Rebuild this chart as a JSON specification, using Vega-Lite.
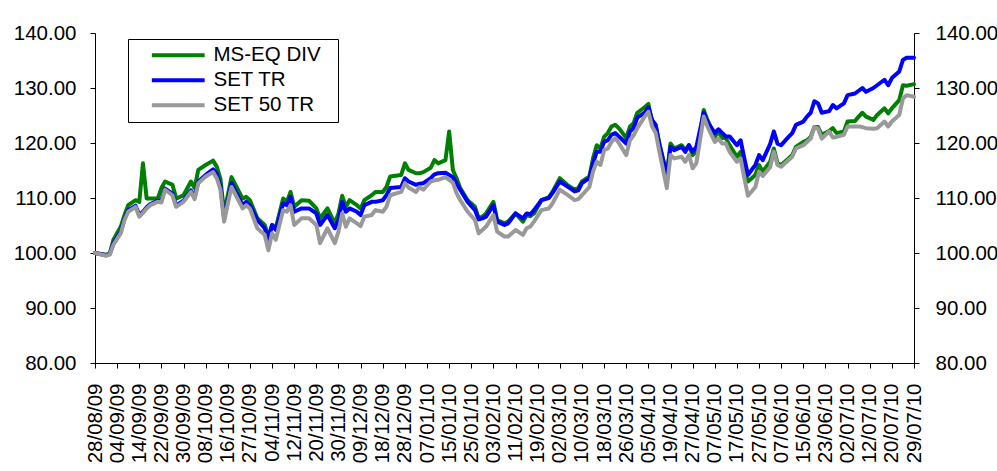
{
  "$schema": "https://vega.github.io/schema/vega-lite/v6.json",
  "width": 819,
  "height": 330,
  "autosize": {"type": "none"},
  "padding": {"left": 95, "top": 33, "right": 83, "bottom": 108},
  "background": "white",
  "config": {
    "view": {"stroke": null},
    "font": "Liberation Sans",
    "axis": {
      "labelFont": "Liberation Sans",
      "labelFontSize": 20.5,
      "labelColor": "#000000",
      "domainColor": "#000000",
      "tickColor": "#000000",
      "domainWidth": 1,
      "tickWidth": 1,
      "tickSize": 5,
      "grid": false,
      "title": null,
      "labelFlush": false,
      "labelOverlap": false
    }
  },
  "data": {
    "values": [
      {"d": 0, "MS-EQ DIV": 100.0, "SET TR": 100.0, "SET 50 TR": 100.0},
      {"d": 3, "MS-EQ DIV": 99.7, "SET TR": 99.6, "SET 50 TR": 99.5},
      {"d": 4, "MS-EQ DIV": 99.9, "SET TR": 99.8, "SET 50 TR": 99.7},
      {"d": 5, "MS-EQ DIV": 102.4, "SET TR": 101.8, "SET 50 TR": 101.5},
      {"d": 7, "MS-EQ DIV": 104.8, "SET TR": 103.9, "SET 50 TR": 103.6},
      {"d": 8, "MS-EQ DIV": 106.9, "SET TR": 106.3, "SET 50 TR": 106.0},
      {"d": 9, "MS-EQ DIV": 108.7, "SET TR": 107.8, "SET 50 TR": 107.5},
      {"d": 11, "MS-EQ DIV": 109.6, "SET TR": 108.6, "SET 50 TR": 108.4},
      {"d": 12, "MS-EQ DIV": 109.3, "SET TR": 106.9, "SET 50 TR": 106.6},
      {"d": 13, "MS-EQ DIV": 116.3, "SET TR": 107.5, "SET 50 TR": 107.3},
      {"d": 14, "MS-EQ DIV": 109.9, "SET TR": 108.3, "SET 50 TR": 108.1},
      {"d": 15, "MS-EQ DIV": 109.9, "SET TR": 108.9, "SET 50 TR": 108.7},
      {"d": 17, "MS-EQ DIV": 109.9, "SET TR": 109.5, "SET 50 TR": 109.3},
      {"d": 18, "MS-EQ DIV": 111.8, "SET TR": 109.5, "SET 50 TR": 109.2},
      {"d": 19, "MS-EQ DIV": 113.0, "SET TR": 111.7, "SET 50 TR": 111.5},
      {"d": 21, "MS-EQ DIV": 112.4, "SET TR": 110.8, "SET 50 TR": 110.5},
      {"d": 22, "MS-EQ DIV": 109.9, "SET TR": 108.6, "SET 50 TR": 108.4},
      {"d": 24, "MS-EQ DIV": 110.5, "SET TR": 109.5, "SET 50 TR": 109.3},
      {"d": 26, "MS-EQ DIV": 113.0, "SET TR": 111.4, "SET 50 TR": 111.1},
      {"d": 27, "MS-EQ DIV": 111.8, "SET TR": 110.1, "SET 50 TR": 109.8},
      {"d": 28, "MS-EQ DIV": 115.1, "SET TR": 113.0, "SET 50 TR": 112.7},
      {"d": 30, "MS-EQ DIV": 116.0, "SET TR": 114.2, "SET 50 TR": 113.9},
      {"d": 32, "MS-EQ DIV": 116.8, "SET TR": 115.2, "SET 50 TR": 114.7},
      {"d": 33, "MS-EQ DIV": 115.7, "SET TR": 114.4, "SET 50 TR": 113.6},
      {"d": 34, "MS-EQ DIV": 113.5, "SET TR": 112.2, "SET 50 TR": 111.5},
      {"d": 35, "MS-EQ DIV": 107.3, "SET TR": 106.2, "SET 50 TR": 105.7},
      {"d": 36, "MS-EQ DIV": 110.5, "SET TR": 109.5, "SET 50 TR": 109.0},
      {"d": 37, "MS-EQ DIV": 113.8, "SET TR": 112.7, "SET 50 TR": 112.0},
      {"d": 40, "MS-EQ DIV": 109.9, "SET TR": 108.7, "SET 50 TR": 108.1},
      {"d": 41, "MS-EQ DIV": 110.2, "SET TR": 109.3, "SET 50 TR": 108.7},
      {"d": 42, "MS-EQ DIV": 109.6, "SET TR": 108.7, "SET 50 TR": 108.1},
      {"d": 44, "MS-EQ DIV": 106.3, "SET TR": 106.0, "SET 50 TR": 104.5},
      {"d": 46, "MS-EQ DIV": 105.1, "SET TR": 104.5, "SET 50 TR": 103.3},
      {"d": 47, "MS-EQ DIV": 103.0, "SET TR": 102.4, "SET 50 TR": 100.5},
      {"d": 48, "MS-EQ DIV": 105.1, "SET TR": 105.1, "SET 50 TR": 103.6},
      {"d": 49, "MS-EQ DIV": 104.5, "SET TR": 104.2, "SET 50 TR": 102.4},
      {"d": 51, "MS-EQ DIV": 109.9, "SET TR": 109.0, "SET 50 TR": 107.8},
      {"d": 52, "MS-EQ DIV": 109.3, "SET TR": 108.7, "SET 50 TR": 107.5},
      {"d": 53, "MS-EQ DIV": 111.1, "SET TR": 110.2, "SET 50 TR": 108.7},
      {"d": 54, "MS-EQ DIV": 108.4, "SET TR": 107.5, "SET 50 TR": 105.1},
      {"d": 56, "MS-EQ DIV": 109.6, "SET TR": 108.1, "SET 50 TR": 106.3},
      {"d": 58, "MS-EQ DIV": 109.5, "SET TR": 108.1, "SET 50 TR": 106.3},
      {"d": 60, "MS-EQ DIV": 108.1, "SET TR": 107.2, "SET 50 TR": 105.1},
      {"d": 61, "MS-EQ DIV": 106.3, "SET TR": 105.1, "SET 50 TR": 101.8},
      {"d": 63, "MS-EQ DIV": 108.1, "SET TR": 106.9, "SET 50 TR": 104.5},
      {"d": 65, "MS-EQ DIV": 105.4, "SET TR": 104.5, "SET 50 TR": 101.8},
      {"d": 66, "MS-EQ DIV": 107.2, "SET TR": 106.0, "SET 50 TR": 103.9},
      {"d": 67, "MS-EQ DIV": 110.4, "SET TR": 109.3, "SET 50 TR": 107.2},
      {"d": 68, "MS-EQ DIV": 108.4, "SET TR": 107.5, "SET 50 TR": 104.8},
      {"d": 69, "MS-EQ DIV": 109.6, "SET TR": 108.1, "SET 50 TR": 106.3},
      {"d": 71, "MS-EQ DIV": 108.7, "SET TR": 107.5, "SET 50 TR": 105.4},
      {"d": 72, "MS-EQ DIV": 108.1, "SET TR": 106.9, "SET 50 TR": 104.9},
      {"d": 73, "MS-EQ DIV": 109.6, "SET TR": 108.7, "SET 50 TR": 106.6},
      {"d": 75, "MS-EQ DIV": 110.5, "SET TR": 109.3, "SET 50 TR": 106.9},
      {"d": 76, "MS-EQ DIV": 111.1, "SET TR": 109.3, "SET 50 TR": 107.8},
      {"d": 78, "MS-EQ DIV": 111.1, "SET TR": 109.6, "SET 50 TR": 107.5},
      {"d": 79, "MS-EQ DIV": 112.0, "SET TR": 110.5, "SET 50 TR": 108.4},
      {"d": 80, "MS-EQ DIV": 113.9, "SET TR": 111.8, "SET 50 TR": 110.5},
      {"d": 83, "MS-EQ DIV": 114.2, "SET TR": 112.0, "SET 50 TR": 111.1},
      {"d": 84, "MS-EQ DIV": 116.3, "SET TR": 113.6, "SET 50 TR": 112.7},
      {"d": 85, "MS-EQ DIV": 115.1, "SET TR": 113.0, "SET 50 TR": 111.9},
      {"d": 87, "MS-EQ DIV": 114.5, "SET TR": 112.4, "SET 50 TR": 111.1},
      {"d": 88, "MS-EQ DIV": 114.5, "SET TR": 112.6, "SET 50 TR": 112.0},
      {"d": 89, "MS-EQ DIV": 114.7, "SET TR": 112.7, "SET 50 TR": 111.5},
      {"d": 91, "MS-EQ DIV": 115.5, "SET TR": 113.6, "SET 50 TR": 113.0},
      {"d": 92, "MS-EQ DIV": 116.9, "SET TR": 114.3, "SET 50 TR": 113.2},
      {"d": 93, "MS-EQ DIV": 116.3, "SET TR": 114.5, "SET 50 TR": 113.3},
      {"d": 95, "MS-EQ DIV": 116.9, "SET TR": 114.6, "SET 50 TR": 113.8},
      {"d": 96, "MS-EQ DIV": 122.1, "SET TR": 114.2, "SET 50 TR": 113.3},
      {"d": 97, "MS-EQ DIV": 115.1, "SET TR": 113.8, "SET 50 TR": 112.8},
      {"d": 98, "MS-EQ DIV": 113.6, "SET TR": 112.7, "SET 50 TR": 110.9},
      {"d": 99, "MS-EQ DIV": 111.8, "SET TR": 111.5, "SET 50 TR": 109.6},
      {"d": 101, "MS-EQ DIV": 109.6, "SET TR": 109.3, "SET 50 TR": 107.5},
      {"d": 103, "MS-EQ DIV": 108.4, "SET TR": 107.8, "SET 50 TR": 106.0},
      {"d": 104, "MS-EQ DIV": 106.3, "SET TR": 106.1, "SET 50 TR": 103.6},
      {"d": 105, "MS-EQ DIV": 106.6, "SET TR": 106.3, "SET 50 TR": 104.2},
      {"d": 106, "MS-EQ DIV": 107.2, "SET TR": 106.6, "SET 50 TR": 104.8},
      {"d": 108, "MS-EQ DIV": 109.3, "SET TR": 108.7, "SET 50 TR": 106.9},
      {"d": 109, "MS-EQ DIV": 106.0, "SET TR": 105.7, "SET 50 TR": 103.9},
      {"d": 111, "MS-EQ DIV": 105.4, "SET TR": 105.1, "SET 50 TR": 103.0},
      {"d": 112, "MS-EQ DIV": 105.7, "SET TR": 105.4, "SET 50 TR": 103.0},
      {"d": 114, "MS-EQ DIV": 107.2, "SET TR": 107.2, "SET 50 TR": 104.2},
      {"d": 116, "MS-EQ DIV": 105.7, "SET TR": 106.3, "SET 50 TR": 103.3},
      {"d": 117, "MS-EQ DIV": 106.9, "SET TR": 107.2, "SET 50 TR": 104.5},
      {"d": 118, "MS-EQ DIV": 106.7, "SET TR": 107.0, "SET 50 TR": 104.8},
      {"d": 119, "MS-EQ DIV": 107.2, "SET TR": 107.8, "SET 50 TR": 105.7},
      {"d": 121, "MS-EQ DIV": 109.6, "SET TR": 109.6, "SET 50 TR": 107.8},
      {"d": 123, "MS-EQ DIV": 110.1, "SET TR": 110.0, "SET 50 TR": 108.1},
      {"d": 124, "MS-EQ DIV": 111.1, "SET TR": 110.9, "SET 50 TR": 109.0},
      {"d": 126, "MS-EQ DIV": 113.6, "SET TR": 113.0, "SET 50 TR": 111.5},
      {"d": 128, "MS-EQ DIV": 112.4, "SET TR": 112.1, "SET 50 TR": 110.6},
      {"d": 130, "MS-EQ DIV": 111.5, "SET TR": 111.2, "SET 50 TR": 109.6},
      {"d": 131, "MS-EQ DIV": 111.8, "SET TR": 111.4, "SET 50 TR": 109.8},
      {"d": 132, "MS-EQ DIV": 113.0, "SET TR": 112.7, "SET 50 TR": 110.5},
      {"d": 134, "MS-EQ DIV": 113.9, "SET TR": 113.6, "SET 50 TR": 112.0},
      {"d": 135, "MS-EQ DIV": 117.2, "SET TR": 116.3, "SET 50 TR": 114.8},
      {"d": 136, "MS-EQ DIV": 119.6, "SET TR": 118.4, "SET 50 TR": 116.6},
      {"d": 137, "MS-EQ DIV": 119.0, "SET TR": 118.4, "SET 50 TR": 116.0},
      {"d": 138, "MS-EQ DIV": 121.1, "SET TR": 120.2, "SET 50 TR": 118.7},
      {"d": 139, "MS-EQ DIV": 121.8, "SET TR": 120.5, "SET 50 TR": 119.0},
      {"d": 140, "MS-EQ DIV": 123.0, "SET TR": 121.5, "SET 50 TR": 120.2},
      {"d": 141, "MS-EQ DIV": 123.3, "SET TR": 121.8, "SET 50 TR": 120.9},
      {"d": 142, "MS-EQ DIV": 122.7, "SET TR": 121.2, "SET 50 TR": 120.0},
      {"d": 144, "MS-EQ DIV": 120.9, "SET TR": 119.9, "SET 50 TR": 117.8},
      {"d": 145, "MS-EQ DIV": 123.0, "SET TR": 122.1, "SET 50 TR": 120.5},
      {"d": 146, "MS-EQ DIV": 123.6, "SET TR": 122.7, "SET 50 TR": 121.4},
      {"d": 147, "MS-EQ DIV": 125.5, "SET TR": 124.6, "SET 50 TR": 122.7},
      {"d": 149, "MS-EQ DIV": 126.5, "SET TR": 125.5, "SET 50 TR": 124.8},
      {"d": 150, "MS-EQ DIV": 127.1, "SET TR": 126.5, "SET 50 TR": 125.7},
      {"d": 151, "MS-EQ DIV": 123.9, "SET TR": 124.2, "SET 50 TR": 123.0},
      {"d": 152, "MS-EQ DIV": 123.0, "SET TR": 123.3, "SET 50 TR": 121.8},
      {"d": 153, "MS-EQ DIV": 119.9, "SET TR": 119.6, "SET 50 TR": 118.4},
      {"d": 155, "MS-EQ DIV": 114.2, "SET TR": 114.2, "SET 50 TR": 111.8},
      {"d": 156, "MS-EQ DIV": 119.9, "SET TR": 119.3, "SET 50 TR": 117.8},
      {"d": 157, "MS-EQ DIV": 119.0, "SET TR": 118.7, "SET 50 TR": 117.2},
      {"d": 159, "MS-EQ DIV": 119.6, "SET TR": 119.3, "SET 50 TR": 117.5},
      {"d": 160, "MS-EQ DIV": 118.7, "SET TR": 118.4, "SET 50 TR": 116.6},
      {"d": 161, "MS-EQ DIV": 119.6, "SET TR": 119.6, "SET 50 TR": 117.8},
      {"d": 162, "MS-EQ DIV": 117.8, "SET TR": 118.4, "SET 50 TR": 115.4},
      {"d": 163, "MS-EQ DIV": 118.4, "SET TR": 119.3, "SET 50 TR": 116.3},
      {"d": 164, "MS-EQ DIV": 121.8, "SET TR": 122.4, "SET 50 TR": 120.5},
      {"d": 165, "MS-EQ DIV": 126.0, "SET TR": 125.5, "SET 50 TR": 124.8},
      {"d": 166, "MS-EQ DIV": 124.2, "SET TR": 123.9, "SET 50 TR": 123.0},
      {"d": 168, "MS-EQ DIV": 121.1, "SET TR": 121.8, "SET 50 TR": 120.2},
      {"d": 169, "MS-EQ DIV": 122.1, "SET TR": 122.5, "SET 50 TR": 120.8},
      {"d": 170, "MS-EQ DIV": 120.9, "SET TR": 121.8, "SET 50 TR": 119.9},
      {"d": 171, "MS-EQ DIV": 120.9, "SET TR": 121.2, "SET 50 TR": 119.9},
      {"d": 172, "MS-EQ DIV": 119.6, "SET TR": 121.2, "SET 50 TR": 118.4},
      {"d": 174, "MS-EQ DIV": 117.5, "SET TR": 119.6, "SET 50 TR": 116.6},
      {"d": 175, "MS-EQ DIV": 118.4, "SET TR": 120.5, "SET 50 TR": 117.2},
      {"d": 176, "MS-EQ DIV": 115.1, "SET TR": 117.2, "SET 50 TR": 113.6},
      {"d": 177, "MS-EQ DIV": 113.0, "SET TR": 114.2, "SET 50 TR": 110.4},
      {"d": 179, "MS-EQ DIV": 114.2, "SET TR": 116.0, "SET 50 TR": 112.0},
      {"d": 180, "MS-EQ DIV": 116.0, "SET TR": 117.8, "SET 50 TR": 114.8},
      {"d": 181, "MS-EQ DIV": 114.8, "SET TR": 116.9, "SET 50 TR": 114.0},
      {"d": 183, "MS-EQ DIV": 116.6, "SET TR": 119.8, "SET 50 TR": 115.6},
      {"d": 184, "MS-EQ DIV": 119.0, "SET TR": 122.1, "SET 50 TR": 118.4},
      {"d": 185, "MS-EQ DIV": 116.3, "SET TR": 119.9, "SET 50 TR": 116.0},
      {"d": 186, "MS-EQ DIV": 116.0, "SET TR": 119.6, "SET 50 TR": 115.7},
      {"d": 188, "MS-EQ DIV": 117.2, "SET TR": 121.1, "SET 50 TR": 116.9},
      {"d": 189, "MS-EQ DIV": 117.8, "SET TR": 121.8, "SET 50 TR": 117.5},
      {"d": 190, "MS-EQ DIV": 119.3, "SET TR": 123.3, "SET 50 TR": 119.0},
      {"d": 192, "MS-EQ DIV": 120.2, "SET TR": 123.9, "SET 50 TR": 119.6},
      {"d": 193, "MS-EQ DIV": 120.5, "SET TR": 124.8, "SET 50 TR": 120.2},
      {"d": 194, "MS-EQ DIV": 121.1, "SET TR": 125.5, "SET 50 TR": 120.8},
      {"d": 195, "MS-EQ DIV": 122.9, "SET TR": 127.6, "SET 50 TR": 122.9},
      {"d": 196, "MS-EQ DIV": 122.9, "SET TR": 127.2, "SET 50 TR": 122.6},
      {"d": 197, "MS-EQ DIV": 121.5, "SET TR": 125.5, "SET 50 TR": 120.8},
      {"d": 199, "MS-EQ DIV": 122.2, "SET TR": 125.8, "SET 50 TR": 122.1},
      {"d": 200, "MS-EQ DIV": 122.7, "SET TR": 126.9, "SET 50 TR": 121.0},
      {"d": 201, "MS-EQ DIV": 121.8, "SET TR": 126.3, "SET 50 TR": 121.1},
      {"d": 203, "MS-EQ DIV": 122.1, "SET TR": 127.2, "SET 50 TR": 121.5},
      {"d": 204, "MS-EQ DIV": 123.9, "SET TR": 128.7, "SET 50 TR": 123.0},
      {"d": 206, "MS-EQ DIV": 124.0, "SET TR": 129.0, "SET 50 TR": 123.0},
      {"d": 207, "MS-EQ DIV": 124.8, "SET TR": 129.5, "SET 50 TR": 123.0},
      {"d": 208, "MS-EQ DIV": 125.5, "SET TR": 130.0, "SET 50 TR": 122.9},
      {"d": 209, "MS-EQ DIV": 124.8, "SET TR": 129.3, "SET 50 TR": 122.7},
      {"d": 211, "MS-EQ DIV": 124.2, "SET TR": 130.0, "SET 50 TR": 122.6},
      {"d": 212, "MS-EQ DIV": 125.1, "SET TR": 130.5, "SET 50 TR": 122.7},
      {"d": 214, "MS-EQ DIV": 126.3, "SET TR": 131.5, "SET 50 TR": 123.9},
      {"d": 215, "MS-EQ DIV": 125.4, "SET TR": 130.5, "SET 50 TR": 123.0},
      {"d": 216, "MS-EQ DIV": 126.3, "SET TR": 131.8, "SET 50 TR": 123.9},
      {"d": 218, "MS-EQ DIV": 127.8, "SET TR": 133.0, "SET 50 TR": 125.1},
      {"d": 219, "MS-EQ DIV": 130.5, "SET TR": 135.1, "SET 50 TR": 128.1},
      {"d": 220, "MS-EQ DIV": 130.4, "SET TR": 135.5, "SET 50 TR": 128.7},
      {"d": 222, "MS-EQ DIV": 130.7, "SET TR": 135.5, "SET 50 TR": 128.4}
    ]
  },
  "transform": [
    {"fold": ["MS-EQ DIV", "SET TR", "SET 50 TR"], "as": ["series", "value"]}
  ],
  "layer": [
    {
      "mark": {"type": "line", "strokeWidth": 4, "strokeJoin": "round", "strokeCap": "round"},
      "encoding": {
        "x": {
          "field": "d",
          "type": "quantitative",
          "scale": {"domain": [0, 222], "nice": false, "zero": false},
          "axis": {
            "values": [0, 6, 12, 18, 24, 30, 36, 42, 48, 54, 60, 66, 72, 78, 84, 90, 96, 102, 108, 114, 120, 126, 132, 138, 144, 150, 156, 162, 168, 174, 180, 186, 192, 198, 204, 210, 216, 222],
            "labelExpr": "['28/08/09','04/09/09','14/09/09','22/09/09','30/09/09','08/10/09','16/10/09','27/10/09','04/11/09','12/11/09','20/11/09','30/11/09','09/12/09','18/12/09','28/12/09','07/01/10','15/01/10','25/01/10','03/02/10','11/02/10','19/02/10','02/03/10','10/03/10','18/03/10','26/03/10','05/04/10','19/04/10','27/04/10','07/05/10','17/05/10','27/05/10','07/06/10','15/06/10','23/06/10','02/07/10','12/07/10','20/07/10','29/07/10'][round(datum.value/6)]",
            "labelAngle": -90,
            "labelAlign": "right",
            "labelBaseline": "middle",
            "labelPadding": 15,
            "labelOverlap": false,
            "labelSeparation": 0,
            "labelBound": false,
            "labelFlush": false
          }
        },
        "y": {
          "field": "value",
          "type": "quantitative",
          "scale": {"domain": [80, 140], "nice": false, "zero": false},
          "axis": {"values": [80, 90, 100, 110, 120, 130, 140], "format": ".2f", "labelPadding": 14, "labelOverlap": false, "labelFlush": false}
        },
        "color": {
          "field": "series",
          "type": "nominal",
          "sort": ["MS-EQ DIV", "SET TR", "SET 50 TR"],
          "scale": {"domain": ["MS-EQ DIV", "SET TR", "SET 50 TR"], "range": ["#008000", "#0000ff", "#999999"]},
          "legend": {
            "title": null,
            "orient": "none",
            "legendX": 33,
            "legendY": 6,
            "strokeColor": "#000000",
            "fillColor": "#ffffff",
            "padding": 6,
            "labelFont": "Liberation Sans",
            "labelFontSize": 20.5,
            "labelColor": "#000000",
            "labelExpr": "datum.label + '\u00a0\u00a0\u200b'",
            "symbolType": "M-3.3,0H3.3",
            "symbolSize": 256,
            "symbolStrokeWidth": 4,
            "symbolOffset": 34,
            "labelOffset": 25,
            "rowPadding": 4
          }
        }
      }
    },
    {
      "mark": {"type": "point", "opacity": 0},
      "encoding": {
        "x": {
          "field": "d",
          "type": "quantitative",
          "scale": {"domain": [0, 222], "nice": false, "zero": false},
          "axis": {
            "values": [0, 6, 12, 18, 24, 30, 36, 42, 48, 54, 60, 66, 72, 78, 84, 90, 96, 102, 108, 114, 120, 126, 132, 138, 144, 150, 156, 162, 168, 174, 180, 186, 192, 198, 204, 210, 216, 222],
            "labelExpr": "['28/08/09','04/09/09','14/09/09','22/09/09','30/09/09','08/10/09','16/10/09','27/10/09','04/11/09','12/11/09','20/11/09','30/11/09','09/12/09','18/12/09','28/12/09','07/01/10','15/01/10','25/01/10','03/02/10','11/02/10','19/02/10','02/03/10','10/03/10','18/03/10','26/03/10','05/04/10','19/04/10','27/04/10','07/05/10','17/05/10','27/05/10','07/06/10','15/06/10','23/06/10','02/07/10','12/07/10','20/07/10','29/07/10'][round(datum.value/6)]",
            "labelAngle": -90,
            "labelAlign": "right",
            "labelBaseline": "middle",
            "labelPadding": 15,
            "labelOverlap": false,
            "labelSeparation": 0,
            "labelBound": false,
            "labelFlush": false
          }
        },
        "y": {
          "field": "value",
          "type": "quantitative",
          "scale": {"domain": [80, 140], "nice": false, "zero": false},
          "axis": {"orient": "right", "values": [80, 90, 100, 110, 120, 130, 140], "format": ".2f", "labelPadding": 16, "labelOverlap": false, "labelFlush": false}
        }
      }
    }
  ],
  "resolve": {"scale": {"y": "independent"}}
}
